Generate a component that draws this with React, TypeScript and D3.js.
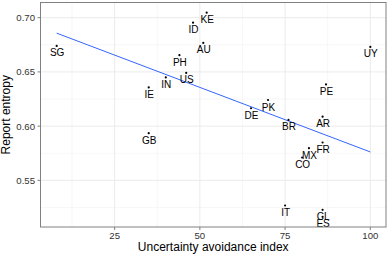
import React, { useEffect, useRef } from 'react';
import * as d3 from 'd3';

// country codes, Hofstede uncertainty avoidance, report entropy
const countries = ['SG', 'GB', 'IE', 'IN', 'PH', 'US', 'ID', 'AU', 'KE', 'DE', 'PK', 'IT', 'BR', 'CO', 'MX', 'FR', 'AR', 'CL', 'ES', 'PE', 'UY'];
const uai = [8, 35, 35, 40, 44, 46, 48, 51, 52, 65, 70, 75, 76, 80, 82, 86, 86, 86, 86, 87, 100];
const entropy = [0.674, 0.5935, 0.6357, 0.6449, 0.6654, 0.6491, 0.6954, 0.6767, 0.7046, 0.6165, 0.6241, 0.5268, 0.6057, 0.5711, 0.5797, 0.5849, 0.6087, 0.5228, 0.5164, 0.6385, 0.673];

const xTicks = [25, 50, 75, 100];
const xMinor = [12.5, 37.5, 62.5, 87.5];
const yTicks = [0.55, 0.6, 0.65, 0.7];
const yMinor = [0.525, 0.575, 0.625, 0.675];

const W = 388;
const H = 256;
const FONT = 'Liberation Sans, Arial, Helvetica, sans-serif';

const Chart = () => {
    const ref = useRef<SVGSVGElement>(null);

    useEffect(() => {
        const left = 40.5, right = 386, top = 2.5, bottom = 227;
        const svg = d3.select(ref.current);
        svg.selectAll('*').remove();

        const expand = (ext: number[]) => {
            const pad = (ext[1] - ext[0]) * 0.05;
            return [ext[0] - pad, ext[1] + pad];
        };
        const x = d3.scaleLinear().domain(expand(d3.extent(uai) as number[])).range([left + 0.5, right]);
        const y = d3.scaleLinear().domain(expand(d3.extent(entropy) as number[])).range([bottom, top]);

        // least squares fit (geom_smooth method = lm)
        const mx = d3.mean(uai)!;
        const my = d3.mean(entropy)!;
        const sxy = d3.sum(uai, (v, i) => (v - mx) * (entropy[i] - my));
        const sxx = d3.sum(uai, v => (v - mx) * (v - mx));
        const slope = sxy / sxx;
        const icpt = my - slope * mx;
        const [x0, x1] = d3.extent(uai) as number[];

        const grid = svg.append('g');
        grid.selectAll('.xmin').data(xMinor).join('line')
            .attr('x1', d => x(d)).attr('x2', d => x(d)).attr('y1', top).attr('y2', bottom)
            .attr('stroke', '#f7f7f7');
        grid.selectAll('.ymin').data(yMinor).join('line')
            .attr('y1', d => y(d)).attr('y2', d => y(d)).attr('x1', left).attr('x2', right)
            .attr('stroke', '#f7f7f7');
        grid.selectAll('.xmaj').data(xTicks).join('line')
            .attr('x1', d => x(d)).attr('x2', d => x(d)).attr('y1', top).attr('y2', bottom)
            .attr('stroke', '#ebebeb');
        grid.selectAll('.ymaj').data(yTicks).join('line')
            .attr('y1', d => y(d)).attr('y2', d => y(d)).attr('x1', left).attr('x2', right)
            .attr('stroke', '#ebebeb');

        svg.append('line')
            .attr('x1', x(x0)).attr('y1', y(icpt + slope * x0))
            .attr('x2', x(x1)).attr('y2', y(icpt + slope * x1))
            .attr('stroke', '#3366FF').attr('stroke-width', 1);

        svg.append('g').selectAll('circle').data(uai).join('circle')
            .attr('cx', d => x(d)).attr('cy', (d, i) => y(entropy[i]))
            .attr('r', 1.1).attr('fill', 'black');

        svg.append('g').selectAll('text').data(countries).join('text')
            .attr('x', (d, i) => x(uai[i]) + 0.5)
            .attr('y', (d, i) => y(entropy[i]) + 10.5)
            .attr('text-anchor', 'middle')
            .attr('font-family', FONT).attr('font-size', 10)
            .text(d => d);

        svg.append('rect')
            .attr('x', left).attr('y', top).attr('width', right - left).attr('height', bottom - top)
            .attr('fill', 'none').attr('stroke', '#808080');

        // axes
        const ax = svg.append('g');
        ax.selectAll('.xt').data(xTicks).join('line')
            .attr('x1', d => x(d)).attr('x2', d => x(d)).attr('y1', bottom).attr('y2', bottom + 3)
            .attr('stroke', '#808080');
        ax.selectAll('.xl').data(xTicks).join('text')
            .attr('x', d => x(d)).attr('y', bottom + 12.3)
            .attr('text-anchor', 'middle').attr('font-family', FONT).attr('font-size', 9.6).attr('fill', '#333')
            .text(d => d);
        ax.selectAll('.yt').data(yTicks).join('line')
            .attr('y1', d => y(d)).attr('y2', d => y(d)).attr('x1', left - 3).attr('x2', left)
            .attr('stroke', '#808080');
        ax.selectAll('.yl').data(yTicks).join('text')
            .attr('x', left - 5.5).attr('y', d => y(d) + 3.4)
            .attr('text-anchor', 'end').attr('font-family', FONT).attr('font-size', 9.6).attr('fill', '#333')
            .text(d => d3.format('.2f')(d));

        svg.append('text')
            .attr('x', (left + right) / 2).attr('y', 250.5)
            .attr('text-anchor', 'middle').attr('font-family', FONT).attr('font-size', 12)
            .text('Uncertainty avoidance index');
        svg.append('text')
            .attr('transform', `translate(10,${(top + bottom) / 2}) rotate(-90)`)
            .attr('text-anchor', 'middle').attr('font-family', FONT).attr('font-size', 12)
            .text('Report entropy');
    }, []);

    return <svg ref={ref} width={W} height={H} style={{ position: 'absolute', left: 0, top: 0, background: 'white' }} />;
};

export default function App() {
    return <Chart />;
}
